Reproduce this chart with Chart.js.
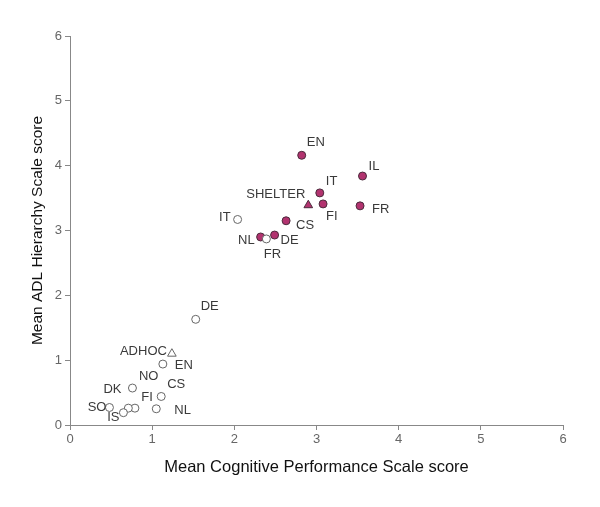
<!DOCTYPE html>
<html>
<head>
<meta charset="utf-8">
<script src="https://cdn.jsdelivr.net/npm/chart.js@4/dist/chart.umd.min.js"></script>
<style>
html,body{margin:0;padding:0;background:#fff;}
#wrap{width:600px;height:507px;}
</style>
</head>
<body>
<div id="wrap"><canvas id="c" width="600" height="507"></canvas></div>
<script>
// ---- data ----
const facilityLabels = ['EN','IL','IT','FI','FR','CS','DE','NL'];
const facilityCPS    = [2.82, 3.56, 3.04, 3.08, 3.53, 2.63, 2.49, 2.32];
const facilityADL    = [4.16, 3.84, 3.58, 3.41, 3.38, 3.15, 2.93, 2.90];

const shelterLabels = ['SHELTER'];
const shelterCPS    = [2.90];
const shelterADL    = [3.39];

const homeLabels = ['IT','FR','DE','EN','CS','NL','DK','NO','FI','IS','SO'];
const homeCPS    = [2.04, 2.39, 1.53, 1.13, 1.11, 1.05, 0.76, 0.79, 0.71, 0.65, 0.48];
const homeADL    = [3.17, 2.87, 1.63, 0.94, 0.44, 0.25, 0.57, 0.26, 0.26, 0.19, 0.27];

const adhocLabels = ['ADHOC'];
const adhocCPS    = [1.24];
const adhocADL    = [1.10];

const tickValues = [0,1,2,3,4,5,6];

// ---- label placement (pixel offsets, align) ----
const facilityLabelPos = [[5,-13,'left'],[6,-10,'left'],[6,-11,'left'],[3,13,'left'],[12,4,'left'],[10,5,'left'],[6,5,'left'],[-6,3,'right']];
const shelterLabelPos  = [[-3,-11,'right']];
const homeLabelPos     = [[-7,-2,'right'],[6,15,'center'],[5,-13,'left'],[12,1,'left'],[6,-12,'left'],[18,2,'left'],[-11,1,'right'],[4,-32,'left'],[13,-11,'left'],[-4,5,'right'],[-3,0,'right']];
const adhocLabelPos    = [[-5,-2,'right']];

function pts(xs, ys){ return xs.map((x,i)=>({x:x, y:ys[i]})); }

const MAGENTA = '#b2336f';
const DARK = '#4b2b3c';
const GREY = '#666666';
const AXIS = '#888888';
const FONT = "'Liberation Sans', Arial, sans-serif";

const pointLabelPlugin = {
  id: 'pointLabels',
  afterDatasetsDraw(chart){
    const ctx = chart.ctx;
    ctx.save();
    ctx.font = '13px ' + FONT;
    ctx.fillStyle = '#3a3a3a';
    ctx.textBaseline = 'middle';
    chart.data.datasets.forEach((ds, di) => {
      const meta = chart.getDatasetMeta(di);
      meta.data.forEach((el, i) => {
        const p = ds.labelPos[i];
        ctx.textAlign = p[2];
        ctx.fillText(ds.pointNames[i], el.x + p[0], el.y + p[1]);
      });
    });
    ctx.restore();
  }
};

new Chart(document.getElementById('c'), {
  type: 'scatter',
  data: {
    datasets: [
      { label: 'Home care', data: pts(homeCPS, homeADL), pointNames: homeLabels, labelPos: homeLabelPos,
        pointStyle: 'circle', pointRadius: 4, pointBackgroundColor: '#ffffff', pointBorderColor: GREY, pointBorderWidth: 1 },
      { label: 'Ad hoc', data: pts(adhocCPS, adhocADL), pointNames: adhocLabels, labelPos: adhocLabelPos,
        pointStyle: 'triangle', pointRadius: 5, pointBackgroundColor: '#ffffff', pointBorderColor: GREY, pointBorderWidth: 1 },
      { label: 'Facility', data: pts(facilityCPS, facilityADL), pointNames: facilityLabels, labelPos: facilityLabelPos,
        pointStyle: 'circle', pointRadius: 4, pointBackgroundColor: MAGENTA, pointBorderColor: DARK, pointBorderWidth: 1 },
      { label: 'Shelter', data: pts(shelterCPS, shelterADL), pointNames: shelterLabels, labelPos: shelterLabelPos,
        pointStyle: 'triangle', pointRadius: 5, pointBackgroundColor: MAGENTA, pointBorderColor: DARK, pointBorderWidth: 1 }
    ]
  },
  options: {
    responsive: false,
    animation: false,
    devicePixelRatio: 1,
    layout: { padding: { top: 36, right: 37, left: 0, bottom: 0 } },
    plugins: { legend: { display: false }, tooltip: { enabled: false } },
    scales: {
      x: {
        type: 'linear', min: 0, max: 6,
        afterBuildTicks: s => { s.ticks = tickValues.map(v => ({value: v})); },
        afterFit: s => { s.height = 82; },
        grid: { display: true, drawOnChartArea: false, drawTicks: true, tickLength: 5, color: AXIS },
        border: { display: true, color: AXIS, width: 1 },
        ticks: { color: GREY, padding: 2, font: { size: 13, family: FONT } },
        title: { display: true, text: 'Mean Cognitive Performance Scale score', color: '#111',
                 font: { size: 16.5, family: FONT }, padding: { top: 0, bottom: 30 } }
      },
      y: {
        type: 'linear', min: 0, max: 6,
        afterBuildTicks: s => { s.ticks = tickValues.map(v => ({value: v})); },
        afterFit: s => { s.width = 70; },
        grid: { display: true, drawOnChartArea: false, drawTicks: true, tickLength: 5, color: AXIS },
        border: { display: true, color: AXIS, width: 1 },
        ticks: { color: GREY, padding: 3, font: { size: 13, family: FONT } },
        title: { display: true, text: 'Mean ADL Hierarchy Scale score', color: '#111',
                 font: { size: 15.5, family: FONT }, padding: { top: 28, bottom: 0 } }
      }
    }
  },
  plugins: [pointLabelPlugin]
});
</script>
</body>
</html>
